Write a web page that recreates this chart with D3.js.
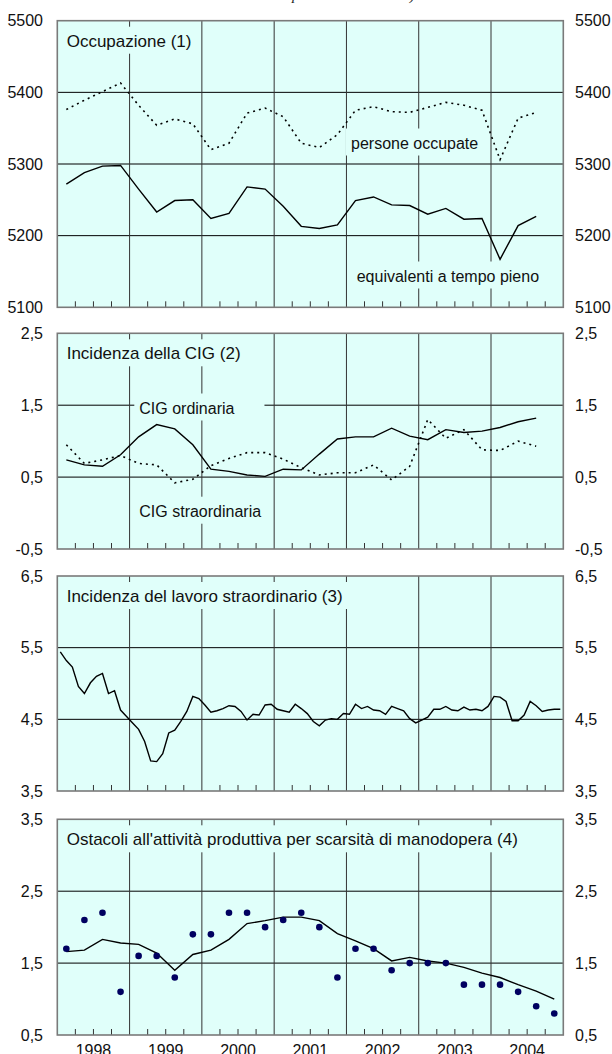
<!DOCTYPE html>
<html><head><meta charset="utf-8">
<script src="https://cdn.jsdelivr.net/npm/d3@7"></script>
<style>
body{margin:0;background:#fff}
svg{display:block;font-family:"Liberation Sans",Arial,sans-serif}
</style>
</head><body>
<svg id="c" width="612" height="1054"></svg>
<script>
// ---------- DATA ----------
const years = [1998, 1999, 2000, 2001, 2002, 2003, 2004];
const startYear = 1998;

// Panel 1: Occupazione (migliaia), quarterly 1998Q1-2004Q3
const occEquivalenti = [5272, 5288, 5297, 5298, 5265, 5233, 5249, 5250, 5224, 5231, 5268, 5265, 5241, 5213,
  5210, 5215, 5249, 5254, 5243, 5242, 5230, 5238, 5223, 5224, 5167, 5214, 5227];
const occPersone = [5376, 5389, 5401, 5413, 5382, 5354, 5363, 5356, 5320, 5329, 5371, 5378, 5366, 5329,
  5323, 5341, 5375, 5380, 5373, 5372, 5379, 5386, 5382, 5375, 5306, 5364, 5372];

// Panel 2: Incidenza della CIG, quarterly 1998Q1-2004Q3
const cigOrdinaria = [0.74, 0.67, 0.65, 0.81, 1.06, 1.23, 1.17, 0.95, 0.61, 0.58, 0.53, 0.51, 0.61, 0.60,
  0.82, 1.03, 1.06, 1.06, 1.18, 1.07, 1.02, 1.16, 1.12, 1.14, 1.19, 1.27, 1.32];
const cigStraordinaria = [0.95, 0.69, 0.74, 0.80, 0.69, 0.67, 0.42, 0.47, 0.66, 0.76, 0.84, 0.84, 0.75, 0.63,
  0.53, 0.56, 0.56, 0.67, 0.46, 0.65, 1.30, 1.04, 1.16, 0.88, 0.87, 1.00, 0.93];

// Panel 3: Incidenza del lavoro straordinario, monthly Jan 1998 - Dec 2004
const straordinario = [
  5.44, 5.32, 5.23, 4.96, 4.86, 5.01, 5.10, 5.14, 4.86, 4.90, 4.63, 4.54,
  4.45, 4.36, 4.19, 3.92, 3.91, 4.02, 4.31, 4.35, 4.47, 4.61, 4.82, 4.79,
  4.70, 4.60, 4.62, 4.65, 4.69, 4.68, 4.61, 4.49, 4.57, 4.56, 4.70, 4.71,
  4.64, 4.62, 4.60, 4.71, 4.65, 4.58, 4.47, 4.41, 4.49, 4.51, 4.50, 4.58,
  4.57, 4.71, 4.65, 4.68, 4.63, 4.62, 4.57, 4.68, 4.65, 4.62, 4.51, 4.45,
  4.49, 4.53, 4.64, 4.64, 4.68, 4.63, 4.62, 4.67, 4.63, 4.64, 4.62, 4.68,
  4.82, 4.81, 4.75, 4.48, 4.48, 4.56, 4.75, 4.69, 4.61, 4.63, 4.64, 4.64];

// Panel 4: Ostacoli per scarsità di manodopera, quarterly 1998Q1-2004Q4
const ostacoliPunti = [1.7, 2.1, 2.2, 1.1, 1.6, 1.6, 1.3, 1.9, 1.9, 2.2, 2.2, 2.0, 2.1, 2.2,
  2.0, 1.3, 1.7, 1.7, 1.4, 1.5, 1.5, 1.5, 1.2, 1.2, 1.2, 1.1, 0.9, 0.8];
const ostacoliMedia = [1.66, 1.68, 1.83, 1.78, 1.76, 1.64, 1.40, 1.62, 1.68, 1.83, 2.05, 2.09, 2.14, 2.14,
  2.09, 1.91, 1.81, 1.70, 1.53, 1.58, 1.53, 1.50, 1.44, 1.36, 1.30, 1.20, 1.11, 1.00];

// Tick values
const ticks1 = [5100, 5200, 5300, 5400, 5500];
const ticks2 = [-0.5, 0.5, 1.5, 2.5];
const ticks3 = [3.5, 4.5, 5.5, 6.5];
const ticks4 = [0.5, 1.5, 2.5, 3.5];

// Titles and labels
const titles = ["Occupazione (1)", "Incidenza della CIG (2)", "Incidenza del lavoro straordinario (3)",
  "Ostacoli all'attività produttiva per scarsità di manodopera (4)"];

// ---------- DRAW ----------
const svg = d3.select("#c");
const BG = "#E0FFFA";
const L = 57.3, R = 563.3;
const x = d3.scaleLinear().domain([startYear, startYear + years.length]).range([L, R]);
const qx = i => startYear + (i + 0.5) / 4;
const mx = i => startYear + (i + 0.5) / 12;
const itFmt = d3.formatLocale({decimal: ",", thousands: ".", grouping: [3], currency: ["", "€"], minus: "-"});

// cut-off header text
svg.append("text").attr("x", 292).attr("y", -0.5)
  .style("font-family", "'Liberation Serif','Times New Roman',serif").style("font-style", "italic")
  .style("font-size", "15px").attr("fill", "#222").text("percentuali e medie)");

const panels = [
  {top: 20.7, bottom: 307.3, domain: [5100, 5500], ticks: ticks1, fmt: d3.format("d"), title: titles[0]},
  {top: 333.3, bottom: 549, domain: [-0.5, 2.5], ticks: ticks2, fmt: itFmt.format(".1f"), title: titles[1]},
  {top: 576, bottom: 791, domain: [3.5, 6.5], ticks: ticks3, fmt: itFmt.format(".1f"), title: titles[2]},
  {top: 819.3, bottom: 1035, domain: [0.5, 3.5], ticks: ticks4, fmt: itFmt.format(".1f"), title: titles[3]}
];

panels.forEach((p, k) => {
  const y = d3.scaleLinear().domain(p.domain).range([p.bottom, p.top]);
  p.y = y;
  const g = svg.append("g");
  p.g = g;
  g.append("rect").attr("x", L).attr("y", p.top).attr("width", R - L).attr("height", p.bottom - p.top).attr("fill", BG);
  // horizontal grid
  g.selectAll(".hg").data(p.ticks.slice(1, -1)).join("line")
    .attr("x1", L).attr("x2", R).attr("y1", d => y(d)).attr("y2", d => y(d))
    .attr("stroke", "#000").attr("stroke-width", 1);
  // vertical year grid
  g.selectAll(".vg").data(years.slice(1)).join("line")
    .attr("x1", d => x(d)).attr("x2", d => x(d)).attr("y1", p.top).attr("y2", p.bottom)
    .attr("stroke", "#333").attr("stroke-width", 1);
  // minor quarterly ticks at bottom
  const q = d3.range(years.length * 4).filter(i => i % 4 !== 0).map(i => startYear + i / 4);
  g.selectAll(".mt").data(q).join("line")
    .attr("x1", d => x(d)).attr("x2", d => x(d)).attr("y1", p.bottom).attr("y2", p.bottom - 6)
    .attr("stroke", "#333").attr("stroke-width", 1);
  // left & right axis labels
  g.selectAll(".tl").data(p.ticks).join("text")
    .attr("x", 43).attr("y", d => y(d)).attr("text-anchor", "end").attr("dy", "0.36em")
    .style("font-size", "16px").attr("fill", "#111").text(p.fmt);
  g.selectAll(".tr").data(p.ticks).join("text")
    .attr("x", 575).attr("y", d => y(d)).attr("text-anchor", "start").attr("dy", "0.36em")
    .style("font-size", "16px").attr("fill", "#111").text(p.fmt);
  p.layer = g.append("g");
});

function labelBox(g, text, tx, baseline, size, padR) {
  const t = g.append("text").attr("x", tx).attr("y", baseline).style("font-size", size + "px")
    .attr("fill", "#111").text(text);
  const w = t.node().getComputedTextLength();
  g.insert("rect", () => t.node()).attr("x", tx - 5).attr("y", baseline - 20)
    .attr("width", w + 5 + padR).attr("height", 27).attr("fill", BG);
  return t;
}

// titles
panels.forEach(p => {
  labelBox(p.layer, p.title, 66.7, p.top + 26, 17, 8);
});

// Panel 1 lines
{
  const p = panels[0], g = p.layer;
  labelBox(g, "persone occupate", 351, 148.5, 16, 6);
  labelBox(g, "equivalenti a tempo pieno", 356.7, 281.5, 16, 6);
  const line = d3.line().x((d, i) => x(qx(i))).y(d => p.y(d));
  g.append("path").datum(occPersone).attr("d", line).attr("fill", "none")
    .attr("stroke", "#000").attr("stroke-width", 1.6).attr("stroke-dasharray", "2,4");
  g.append("path").datum(occEquivalenti).attr("d", line).attr("fill", "none")
    .attr("stroke", "#000").attr("stroke-width", 1.4);
}
// Panel 2 lines
{
  const p = panels[1], g = p.layer;
  labelBox(g, "CIG ordinaria", 139.3, 413.5, 16, 30);
  labelBox(g, "CIG straordinaria", 139.3, 516.7, 16, 6);
  const line = d3.line().x((d, i) => x(qx(i))).y(d => p.y(d));
  g.append("path").datum(cigStraordinaria).attr("d", line).attr("fill", "none")
    .attr("stroke", "#000").attr("stroke-width", 1.6).attr("stroke-dasharray", "2,4");
  g.append("path").datum(cigOrdinaria).attr("d", line).attr("fill", "none")
    .attr("stroke", "#000").attr("stroke-width", 1.4);
}
// Panel 3
{
  const p = panels[2], g = p.layer;
  const line = d3.line().x((d, i) => x(mx(i))).y(d => p.y(d));
  g.append("path").datum(straordinario).attr("d", line).attr("fill", "none")
    .attr("stroke", "#000").attr("stroke-width", 1.4);
}
// Panel 4
{
  const p = panels[3], g = p.layer;
  const line = d3.line().x((d, i) => x(qx(i))).y(d => p.y(d));
  g.append("path").datum(ostacoliMedia).attr("d", line).attr("fill", "none")
    .attr("stroke", "#000").attr("stroke-width", 1.4);
  g.selectAll(".dot").data(ostacoliPunti).join("circle")
    .attr("cx", (d, i) => x(qx(i))).attr("cy", d => p.y(d)).attr("r", 3.3).attr("fill", "#000060");
}

// borders and year labels
panels.forEach(p => {
  p.g.append("rect").attr("x", L).attr("y", p.top).attr("width", R - L).attr("height", p.bottom - p.top)
    .attr("fill", "none").attr("stroke", "#7a7a7a").attr("stroke-width", 1.6);
});
svg.selectAll(".yl").data(years).join("text")
  .attr("x", d => x(d + 0.5)).attr("y", 1055.5).attr("text-anchor", "middle")
  .style("font-size", "16px").attr("fill", "#111").text(d => d);
</script>
</body></html>
